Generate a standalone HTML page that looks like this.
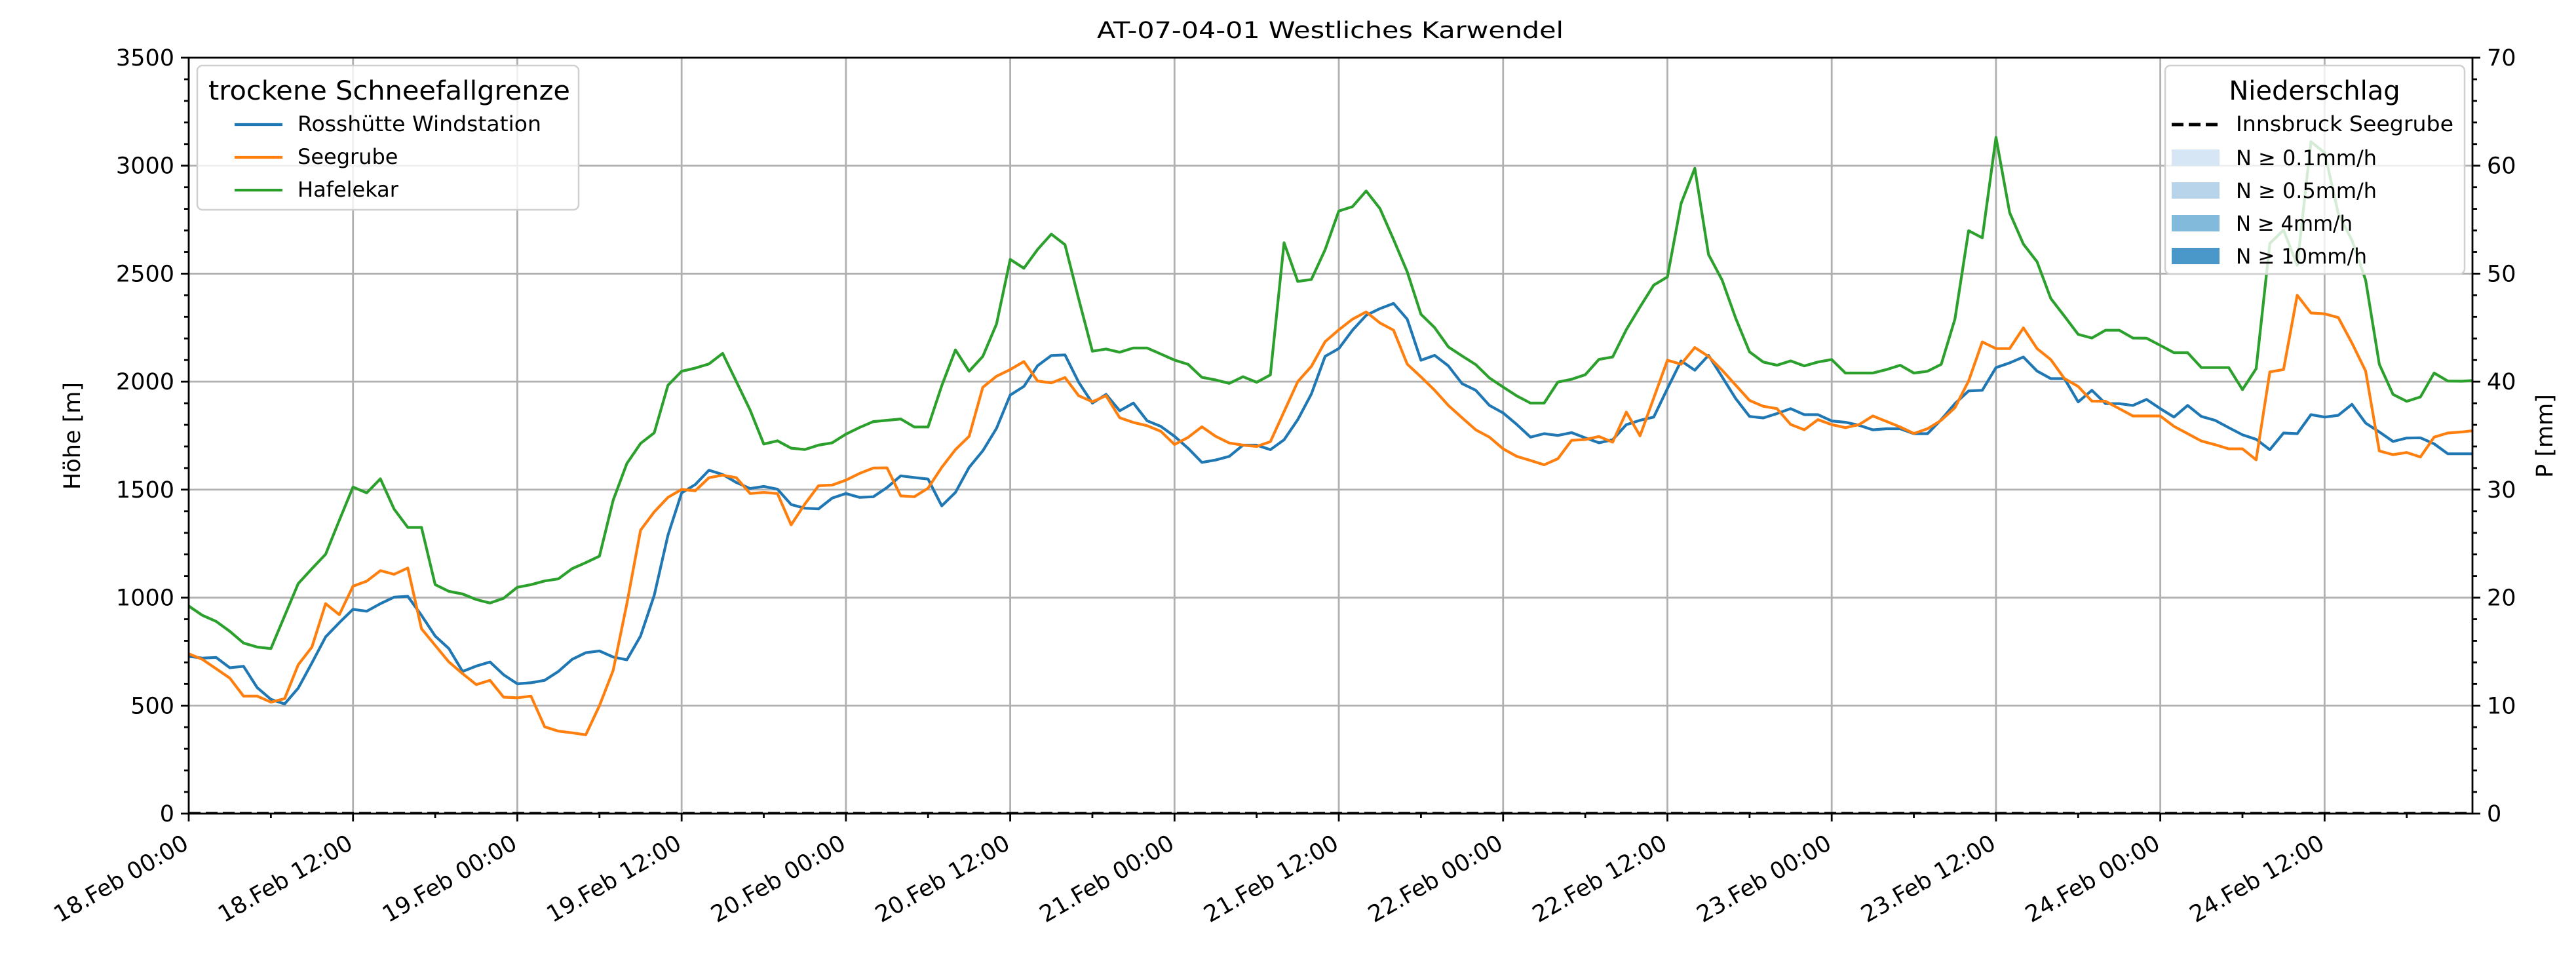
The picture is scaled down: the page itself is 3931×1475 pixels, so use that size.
<!DOCTYPE html>
<html>
<head>
<meta charset="utf-8">
<style>
html,body{margin:0;padding:0;background:#fff;}
svg{display:block;font-family:"DejaVu Sans","Liberation Sans",sans-serif;}
</style>
</head>
<body>
<svg id="chart" width="3931" height="1475" viewBox="0 0 3931 1475" xmlns="http://www.w3.org/2000/svg">
  <rect x="0" y="0" width="3931" height="1475" fill="#fff"/>
  <defs><clipPath id="plotclip"><rect x="288" y="88" width="3485" height="1153"/></clipPath></defs>
  <text x="2030" y="58" font-size="35" text-anchor="middle" textLength="712" lengthAdjust="spacingAndGlyphs">AT-07-04-01 Westliches Karwendel</text>
  <g id="grid"></g>
  <g id="series" clip-path="url(#plotclip)"></g>
  <g id="axes"></g>
  <text x="0" y="0" font-size="35" text-anchor="middle" transform="translate(122,665) rotate(-90)">Höhe [m]</text>
  <text x="0" y="0" font-size="35" text-anchor="middle" transform="translate(3895,665) rotate(-90)">P [mm]</text>

  <g>
    <rect x="301" y="100" width="582" height="220" rx="8" fill="#fff" fill-opacity="0.8" stroke="#d0d0d0" stroke-width="2.5"/>
    <text x="318" y="152" font-size="40" textLength="552" lengthAdjust="spacingAndGlyphs">trockene Schneefallgrenze</text>
    <g>
      <line x1="358" y1="190" x2="431" y2="190" stroke="#1f77b4" stroke-width="4.2"/>
      <text x="454" y="200" font-size="32" textLength="372" lengthAdjust="spacingAndGlyphs">Rosshütte Windstation</text>
    </g>
    <g>
      <line x1="358" y1="240" x2="431" y2="240" stroke="#ff7f0e" stroke-width="4.2"/>
      <text x="454" y="250" font-size="32">Seegrube</text>
    </g>
    <g>
      <line x1="358" y1="290" x2="431" y2="290" stroke="#2ca02c" stroke-width="4.2"/>
      <text x="454" y="300" font-size="32">Hafelekar</text>
    </g>
  </g>

  <g>
    <rect x="3304" y="100" width="457" height="318" rx="8" fill="#fff" fill-opacity="0.8" stroke="#d0d0d0" stroke-width="2.5"/>
    <text x="3532" y="152" font-size="40" text-anchor="middle">Niederschlag</text>
    <g>
      <line x1="3314" y1="190" x2="3387" y2="190" stroke="#000" stroke-width="5" stroke-dasharray="18,8"/>
      <text x="3412" y="200" font-size="32" textLength="332" lengthAdjust="spacingAndGlyphs">Innsbruck Seegrube</text>
    </g>
    <g>
      <rect x="3314" y="228" width="73" height="25" fill="#d6e6f4"/>
      <text x="3412" y="252" font-size="32" textLength="215" lengthAdjust="spacingAndGlyphs">N ≥ 0.1mm/h</text>
    </g>
    <g>
      <rect x="3314" y="278" width="73" height="25" fill="#b7d4ea"/>
      <text x="3412" y="302" font-size="32" textLength="215" lengthAdjust="spacingAndGlyphs">N ≥ 0.5mm/h</text>
    </g>
    <g>
      <rect x="3314" y="328" width="73" height="25" fill="#82badb"/>
      <text x="3412" y="352" font-size="32" textLength="178" lengthAdjust="spacingAndGlyphs">N ≥ 4mm/h</text>
    </g>
    <g>
      <rect x="3314" y="378" width="73" height="25" fill="#4a98c9"/>
      <text x="3412" y="402" font-size="32" textLength="200" lengthAdjust="spacingAndGlyphs">N ≥ 10mm/h</text>
    </g>
  </g>
</svg>
<script>
const rosshuette = [728,720,723,675,682,583,529,508,581,698,818,884,946,937,972,1002,1006,918,822,764,658,683,702,643,601,606,617,658,714,745,753,725,712,822,1011,1289,1485,1524,1590,1570,1533,1505,1515,1502,1431,1414,1411,1461,1482,1464,1467,1510,1564,1556,1549,1425,1487,1603,1680,1784,1938,1978,2074,2121,2124,1997,1901,1941,1865,1901,1819,1793,1747,1691,1626,1637,1654,1706,1706,1685,1731,1824,1943,2117,2153,2238,2307,2338,2362,2289,2099,2122,2073,1991,1960,1890,1855,1802,1743,1759,1751,1764,1740,1717,1731,1801,1821,1836,1968,2096,2053,2122,2022,1921,1839,1832,1852,1875,1847,1847,1818,1812,1798,1777,1782,1782,1759,1759,1824,1898,1957,1960,2065,2087,2114,2049,2014,2014,1906,1960,1898,1898,1890,1918,1875,1836,1890,1839,1821,1787,1754,1733,1685,1762,1759,1847,1836,1844,1895,1808,1767,1723,1739,1740,1712,1666,1666,1666];
const seegrube = [740,714,671,627,544,544,516,532,689,771,972,921,1053,1076,1125,1108,1137,856,779,702,648,597,617,539,536,544,402,382,374,365,500,663,972,1312,1397,1464,1501,1495,1555,1567,1555,1482,1487,1482,1337,1433,1518,1521,1544,1575,1600,1601,1471,1467,1507,1603,1685,1747,1974,2025,2056,2093,2003,1994,2019,1935,1907,1935,1833,1811,1796,1770,1709,1742,1791,1747,1716,1706,1700,1722,1861,2000,2071,2185,2240,2289,2323,2272,2238,2081,2022,1960,1890,1833,1777,1743,1689,1654,1635,1615,1643,1728,1732,1746,1720,1859,1749,1924,2099,2081,2158,2117,2053,1983,1913,1886,1875,1802,1777,1824,1801,1787,1801,1841,1816,1790,1760,1782,1821,1879,2003,2184,2153,2153,2249,2153,2102,2014,1978,1910,1909,1875,1841,1841,1841,1793,1759,1725,1708,1689,1689,1638,2045,2056,2400,2318,2314,2297,2179,2049,1679,1662,1672,1651,1743,1762,1767,1774];
const hafelekar = [961,918,890,844,790,771,764,915,1065,1134,1201,1358,1512,1485,1550,1410,1325,1325,1060,1029,1017,991,975,997,1048,1060,1077,1087,1134,1162,1192,1451,1621,1714,1763,1983,2048,2063,2082,2131,2000,1869,1711,1726,1692,1686,1706,1717,1757,1788,1815,1821,1827,1790,1790,1981,2147,2048,2117,2267,2566,2525,2612,2683,2634,2383,2141,2151,2136,2156,2156,2128,2100,2080,2020,2008,1992,2023,1997,2031,2643,2464,2473,2611,2790,2810,2883,2802,2658,2508,2312,2250,2161,2119,2079,2017,1975,1934,1901,1901,1998,2011,2032,2103,2114,2241,2346,2447,2485,2825,2988,2589,2470,2292,2138,2091,2076,2096,2073,2091,2102,2040,2040,2040,2056,2076,2040,2048,2080,2289,2699,2666,3131,2782,2637,2555,2385,2303,2219,2202,2238,2238,2202,2201,2168,2134,2134,2065,2065,2065,1963,2060,2640,2702,2539,3111,3060,2779,2655,2470,2080,1941,1909,1929,2040,2003,2002,2006];
const precipHours = [0,24,48,72,96,120,144,167];
const precipSeegrube = [0,0,0,0,0,0,0,0];
const xTickLabels = ["18.Feb 00:00","18.Feb 12:00","19.Feb 00:00","19.Feb 12:00","20.Feb 00:00","20.Feb 12:00","21.Feb 00:00","21.Feb 12:00","22.Feb 00:00","22.Feb 12:00","23.Feb 00:00","23.Feb 12:00","24.Feb 00:00","24.Feb 12:00"];
const yTicks = [0,500,1000,1500,2000,2500,3000,3500];
const y2Ticks = [0,10,20,30,40,50,60,70];

const L=288,R=3773,T=88,B=1241,XMAX=166.8,YMAX=3500,Y2MAX=70;
const NS="http://www.w3.org/2000/svg";
function xs(h){return L+(R-L)*h/XMAX;}
function ys(v){return B-(B-T)*v/YMAX;}
function y2s(v){return B-(B-T)*v/Y2MAX;}
function mk(tag,attrs,parent){const e=document.createElementNS(NS,tag);for(const k in attrs)e.setAttribute(k,attrs[k]);parent.appendChild(e);return e;}
const grid=document.getElementById('grid'),axes=document.getElementById('axes'),series=document.getElementById('series');

xTickLabels.forEach((lab,i)=>{const x=xs(i*12);
  const g=mk('line',{x1:x,y1:T,x2:x,y2:B,stroke:'#b0b0b0','stroke-width':2.8},grid);
  
  
});
yTicks.forEach(v=>{const y=ys(v);
  const g=mk('line',{x1:L,y1:y,x2:R,y2:y,stroke:'#b0b0b0','stroke-width':2.8},grid);
  
  
});

function drawLine(vals,color,name){
  const pts=vals.map((v,i)=>xs(i).toFixed(1)+','+ys(v).toFixed(1)).join(' ');
  const p=mk('polyline',{points:pts,fill:'none',stroke:color,'stroke-width':4.2,'stroke-linejoin':'round'},series);
  
  
}
drawLine(rosshuette,'#1f77b4','line-rosshuette');
drawLine(seegrube,'#ff7f0e','line-seegrube');
drawLine(hafelekar,'#2ca02c','line-hafelekar');
const pp=precipHours.map((h,i)=>xs(h).toFixed(1)+','+y2s(precipSeegrube[i]).toFixed(1)).join(' ');
const pl=mk('polyline',{points:pp,fill:'none',stroke:'#000','stroke-width':5,'stroke-dasharray':'18,8'},series);



const sp=mk('rect',{x:L,y:T,width:R-L,height:B-T,fill:'none',stroke:'#000','stroke-width':2.8},axes);



for(let h=0;h<=XMAX;h+=6){const x=xs(h);const len=(h%12===0)?12:7;
  mk('line',{x1:x,y1:B,x2:x,y2:B+len,stroke:'#000','stroke-width':2.8},axes);}
xTickLabels.forEach((lab,i)=>{const x=xs(i*12);
  const t=mk('text',{x:0,y:0,'font-size':35,'text-anchor':'end',transform:'translate('+(x+2)+','+(B+52)+') rotate(-30)'},axes);
  t.textContent=lab;
  
  
});
for(let v=0;v<=YMAX;v+=100){const y=ys(v);const len=(v%500===0)?12:7;
  mk('line',{x1:L-len,y1:y,x2:L,y2:y,stroke:'#000','stroke-width':2.8},axes);}
yTicks.forEach(v=>{
  const t=mk('text',{x:L-22,y:ys(v)+12,'font-size':35,'text-anchor':'end'},axes);
  t.textContent=String(v);
  
  
});
for(let v=0;v<=Y2MAX;v+=2){const y=y2s(v);const len=(v%10===0)?12:7;
  mk('line',{x1:R,y1:y,x2:R+len,y2:y,stroke:'#000','stroke-width':2.8},axes);}
y2Ticks.forEach(v=>{
  const t=mk('text',{x:R+22,y:y2s(v)+12,'font-size':35,'text-anchor':'start'},axes);
  t.textContent=String(v);
  
  
});
</script>
</body>
</html>
